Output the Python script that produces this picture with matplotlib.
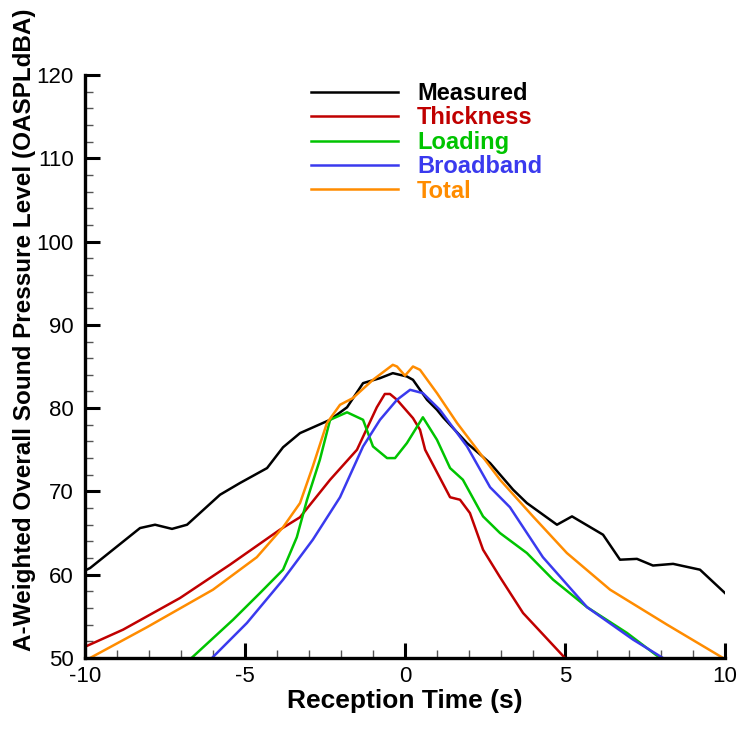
import numpy as np
import matplotlib
matplotlib.use("Agg")
import matplotlib.pyplot as plt
from matplotlib.ticker import MultipleLocator

plt.rcParams['font.family'] = ['Liberation Sans', 'DejaVu Sans']
plt.rcParams['axes.unicode_minus'] = False

# Measured
t_meas = [-10.0, -9.84, -8.28, -7.81, -7.28, -6.81, -5.78, -5.16, -4.31, -3.81, -3.28,
          -2.34, -1.81, -1.31, -0.78, -0.38, 0.06, 0.25, 0.69, 1.0, 1.19, 1.94, 2.66,
          3.38, 3.81, 4.75, 5.22, 6.19, 6.72, 7.25, 7.75, 8.38, 9.22, 10.0]
y_meas = [60.5, 60.8, 65.6, 66.0, 65.5, 66.0, 69.6, 71.0, 72.8, 75.3, 77.0,
          78.6, 80.1, 83.0, 83.6, 84.2, 83.8, 83.4, 81.0, 79.8, 78.9, 75.8, 73.4,
          70.2, 68.6, 66.0, 67.0, 64.8, 61.8, 61.9, 61.1, 61.3, 60.6, 57.8]

# Thickness
t_thick = [-10.2, -8.81, -7.03, -5.47, -3.91, -3.28, -2.34, -1.5, -0.88, -0.63, -0.47,
           -0.25, 0.25, 0.47, 0.63, 1.41, 1.72, 2.03, 2.44, 2.97, 3.69, 5.0]
y_thick = [51.0, 53.4, 57.2, 61.2, 65.4, 66.9, 71.4, 75.0, 80.1, 81.7, 81.7,
           81.0, 78.8, 77.4, 75.0, 69.3, 69.0, 67.4, 63.0, 59.7, 55.4, 50.0]

# Loading
t_load = [-6.67, -5.37, -4.53, -3.81, -3.38, -3.06, -2.66, -2.34, -1.81, -1.31, -1.0,
          -0.56, -0.31, 0.06, 0.56, 1.0, 1.41, 1.81, 2.44, 2.97, 3.81, 4.63, 5.69,
          6.94, 7.97]
y_load = [50.0, 54.6, 57.8, 60.6, 64.5, 69.0, 73.8, 78.6, 79.5, 78.6, 75.4,
          74.0, 74.0, 75.8, 78.9, 76.2, 72.8, 71.4, 67.0, 65.0, 62.6, 59.4, 56.1,
          53.0, 50.0]

# Broadband
t_broad = [-6.03, -4.94, -3.81, -2.88, -2.03, -1.31, -0.78, -0.25, 0.16, 0.56, 1.09,
           1.94, 2.66, 3.28, 4.31, 5.69, 7.13, 8.06]
y_broad = [50.0, 54.2, 59.4, 64.2, 69.3, 75.4, 78.6, 81.0, 82.2, 81.8, 79.8,
           75.4, 70.5, 68.1, 62.1, 56.1, 52.2, 50.0]

# Total
t_total = [-9.84, -8.06, -6.0, -4.63, -3.81, -3.28, -2.88, -2.44, -2.03, -1.63, -1.0,
           -0.38, -0.25, 0.0, 0.25, 0.47, 1.0, 1.63, 2.44, 2.97, 4.0, 5.06, 6.41,
           8.19, 9.94]
y_total = [50.0, 53.7, 58.2, 62.1, 65.7, 68.6, 73.0, 78.2, 80.4, 81.2, 83.4,
           85.2, 85.0, 83.9, 85.0, 84.6, 81.8, 78.2, 74.1, 71.4, 67.0, 62.6, 58.2,
           54.0, 50.0]

series = [
    ("Measured", t_meas, y_meas, "#000000"),
    ("Thickness", t_thick, y_thick, "#c00000"),
    ("Loading", t_load, y_load, "#00c400"),
    ("Broadband", t_broad, y_broad, "#3a3aee"),
    ("Total", t_total, y_total, "#ff8c00"),
]

fig = plt.figure(figsize=(7.39, 7.31), dpi=100)
ax = fig.add_axes([0.115, 0.0999, 0.866, 0.7975])

for name, t, y, c in series:
    ax.plot(t, y, color=c, lw=1.8, label=name)

ax.set_xlim(-10, 10)
ax.set_ylim(50, 120)
ax.xaxis.set_major_locator(MultipleLocator(5))
ax.xaxis.set_minor_locator(MultipleLocator(1))
ax.yaxis.set_major_locator(MultipleLocator(10))
ax.yaxis.set_minor_locator(MultipleLocator(2))

for s in ['top', 'right']:
    ax.spines[s].set_visible(False)
for s in ['left', 'bottom']:
    ax.spines[s].set_linewidth(2.4)

ax.tick_params(which='major', direction='in', length=11, width=2.2, labelsize=16)
ax.tick_params(axis='y', which='major', pad=8)
ax.tick_params(axis='x', which='major', pad=6)
ax.tick_params(which='minor', direction='in', length=6, width=1.0, color='#555555')

ax.set_xlabel("Reception Time (s)", fontsize=19, fontweight='bold', va='top')
ax.xaxis.set_label_coords(0.5, -0.054)
ax.set_ylabel("A-Weighted Overall Sound Pressure Level (OASPLdBA)", fontsize=17.5,
              fontweight='bold')
ax.yaxis.set_label_coords(-0.077, 0.563)

leg = ax.legend(loc='upper left', bbox_to_anchor=(0.353, 0.988), frameon=False,
                fontsize=17, handlelength=3.7, handletextpad=0.8, labelspacing=0.06,
                borderpad=0, borderaxespad=0)
for txt, (_, _, _, c) in zip(leg.get_texts(), series):
    txt.set_color(c)
    txt.set_fontweight('bold')

fig.savefig("out.png", dpi=100)
